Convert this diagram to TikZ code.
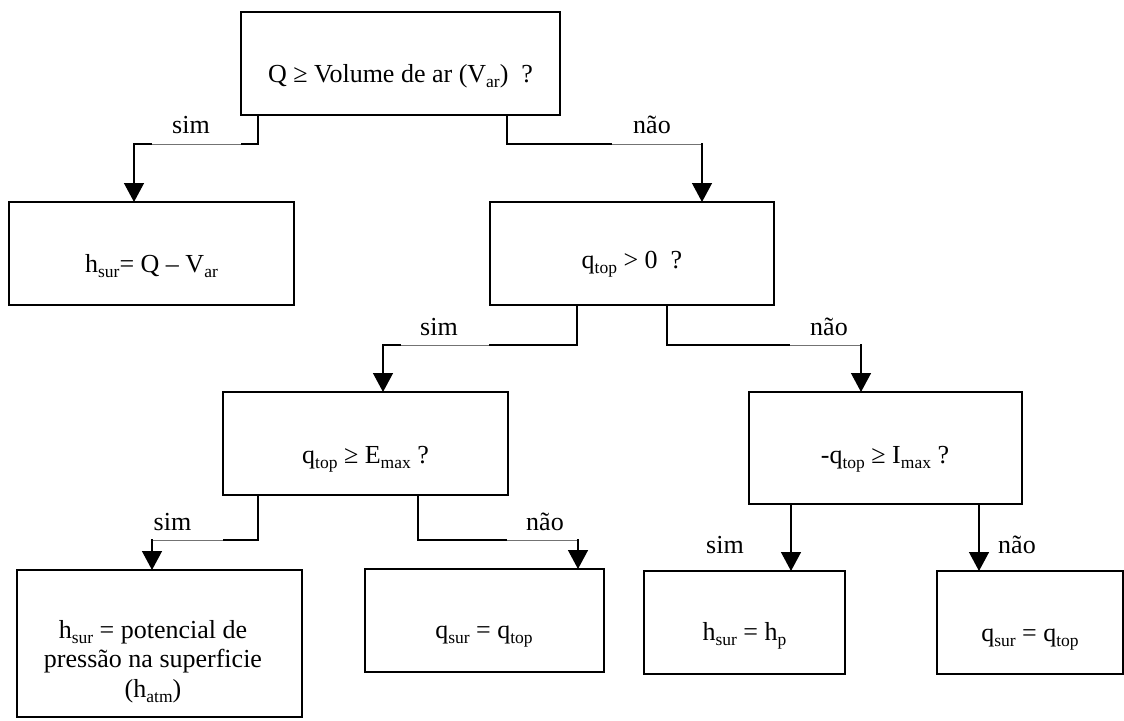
\documentclass[tikz,border=0pt]{standalone}
\usepackage{fontspec}
\setmainfont{Liberation Serif}[Ligatures=NoCommon]
\usetikzlibrary{arrows.meta}
\newcommand{\sbs}[1]{\raisebox{-0.2em}{\fontsize{17.5pt}{17.5pt}\selectfont #1}}
\tikzset{
  box/.style={draw, rectangle, line width=1.4pt, inner sep=0pt, outer sep=0pt},
  txt/.style={anchor=base, inner sep=0pt, outer sep=0pt, font=\fontsize{26pt}{31pt}\selectfont},
  conn/.style={line width=1.4pt, -{Triangle[length=19pt,width=20pt]}},
  thinseg/.style={line width=0.7pt, draw=black!55},
  cover/.style={line width=2.6pt, draw=white},
}
\begin{document}
\begin{tikzpicture}[x=1pt,y=-1pt]
\useasboundingbox (0,0) rectangle (1124,720);

% boxes
\node[box,minimum width=319pt,minimum height=103pt] (B0) at (400.5,63.5) {};
\node[box,minimum width=285pt,minimum height=103pt] (B1) at (151.5,253.5) {};
\node[box,minimum width=284pt,minimum height=103pt] (B2) at (632,253.5) {};
\node[box,minimum width=285pt,minimum height=103pt] (B3) at (365.5,443.5) {};
\node[box,minimum width=273pt,minimum height=112pt] (B4) at (885.5,448) {};
\node[box,minimum width=201pt,minimum height=103pt] (B5) at (744.5,622.5) {};
\node[box,minimum width=186pt,minimum height=103pt] (B6) at (1030,622.5) {};
\node[box,minimum width=285pt,minimum height=147pt] (B7) at (159.5,643.5) {};
\node[box,minimum width=239pt,minimum height=103pt] (B8) at (484.5,620.5) {};

% box texts
\node[txt] (T0) at (400.5,82) {Q ≥ Volume de ar (V\sbs{ar})\ \ ?};
\node[txt] (T1) at (151.5,272) {h\sbs{sur}= Q – V\sbs{ar}};
\node[txt] (T2) at (632,268) {q\sbs{top} > 0\ \ ?};
\node[txt] (T3) at (365.5,463) {q\sbs{top} ≥ E\sbs{max} ?};
\node[txt] (T4) at (885,463) {-q\sbs{top} ≥ I\sbs{max} ?};
\node[txt] (T5) at (744.5,640) {h\sbs{sur} = h\sbs{p}};
\node[txt] (T6) at (1030,641) {q\sbs{sur} = q\sbs{top}};
\node[txt] (T7a) at (153,638) {h\sbs{sur} = potencial de};
\node[txt] (T7b) at (153,667.5) {pressão na superficie};
\node[txt] (T7c) at (153,697) {(h\sbs{atm})};
\node[txt] (T8) at (484,638) {q\sbs{sur} = q\sbs{top}};

% connector corners
\coordinate (c1a) at (258,144); \coordinate (c1b) at (134,144);
\coordinate (c2a) at (507,144); \coordinate (c2b) at (702,144);
\coordinate (c3a) at (577,345); \coordinate (c3b) at (383,345);
\coordinate (c4a) at (667,345); \coordinate (c4b) at (861,345);
\coordinate (c5a) at (258,540); \coordinate (c5b) at (152,540);
\coordinate (c6a) at (418,540); \coordinate (c6b) at (578,540);
\coordinate (c7) at (791,0);
\coordinate (c8) at (979,0);

% connectors
\draw[conn] (B0.south -| c1a) -- (c1a) -- (c1b) -- (B1.north -| c1b);
\draw[conn] (B0.south -| c2a) -- (c2a) -- (c2b) -- (B2.north -| c2b);
\draw[conn] (B2.south -| c3a) -- (c3a) -- (c3b) -- (B3.north -| c3b);
\draw[conn] (B2.south -| c4a) -- (c4a) -- (c4b) -- (B4.north -| c4b);
\draw[conn] (B3.south -| c5a) -- (c5a) -- (c5b) -- (B7.north -| c5b);
\draw[conn] (B3.south -| c6a) -- (c6a) -- (c6b) -- (B8.north -| c6b);
\draw[conn] (B4.south -| c7) -- (B5.north -| c7);
\draw[conn] (B4.south -| c8) -- (B6.north -| c8);

% thin parts of the elbow lines
\coordinate (s1a) at (152,144); \coordinate (s1b) at (241,144);
\coordinate (s2a) at (612,144); \coordinate (s2b) at (701,144);
\coordinate (s3a) at (401,345); \coordinate (s3b) at (489,345);
\coordinate (s4a) at (790,345); \coordinate (s4b) at (860,345);
\coordinate (s5a) at (153,540); \coordinate (s5b) at (223,540);
\coordinate (s6a) at (507,540); \coordinate (s6b) at (577,540);
\foreach \p in {1,...,6}{
  \draw[cover] (s\p a) -- (s\p b);
  \draw[thinseg] (s\p a) -- (s\p b);
}

% branch labels
\node[txt] (L1) at (191,133) {sim};
\node[txt] (L2) at (652,133) {não};
\node[txt] (L3) at (439,335) {sim};
\node[txt] (L4) at (829,335) {não};
\node[txt] (L5) at (172.5,530) {sim};
\node[txt] (L6) at (545,530) {não};
\node[txt] (L7) at (725,553) {sim};
\node[txt] (L8) at (1017,553) {não};
\end{tikzpicture}
\end{document}
